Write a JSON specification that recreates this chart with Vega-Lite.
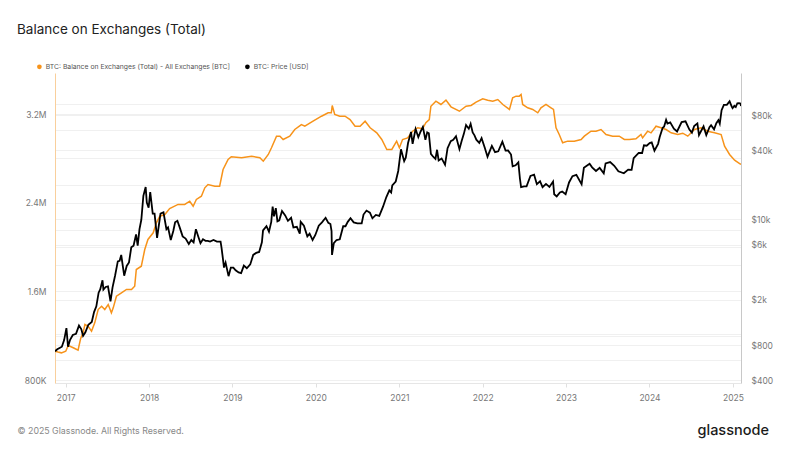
{
  "$schema": "https://vega.github.io/schema/vega-lite/v6.json",
  "width": 686,
  "height": 310,
  "autosize": {"type": "none"},
  "padding": {"left": 55, "top": 73, "right": 59, "bottom": 67},
  "background": "white",
  "title": {
    "text": "Balance on Exchanges (Total)",
    "anchor": "start",
    "frame": "group",
    "dx": -38,
    "offset": 27,
    "fontSize": 13.5,
    "font": "Inter",
    "fontWeight": "normal",
    "color": "#222222"
  },
  "datasets": {
    "balance": [
      {"date": "2016-11-15", "v": 1060000}, {"date": "2016-11-28", "v": 1052000}, {"date": "2016-12-13", "v": 1045000},
      {"date": "2017-01-01", "v": 1060000}, {"date": "2017-01-12", "v": 1111000}, {"date": "2017-02-03", "v": 1091000},
      {"date": "2017-02-24", "v": 1069000}, {"date": "2017-03-07", "v": 1172000}, {"date": "2017-03-18", "v": 1226000},
      {"date": "2017-03-26", "v": 1301000}, {"date": "2017-04-09", "v": 1285000}, {"date": "2017-04-24", "v": 1240000},
      {"date": "2017-05-08", "v": 1316000}, {"date": "2017-05-23", "v": 1436000}, {"date": "2017-06-07", "v": 1466000},
      {"date": "2017-06-21", "v": 1436000}, {"date": "2017-07-06", "v": 1481000}, {"date": "2017-07-20", "v": 1406000},
      {"date": "2017-07-28", "v": 1451000}, {"date": "2017-08-11", "v": 1556000}, {"date": "2017-09-02", "v": 1587000},
      {"date": "2017-09-24", "v": 1617000}, {"date": "2017-10-16", "v": 1617000}, {"date": "2017-10-30", "v": 1646000},
      {"date": "2017-11-06", "v": 1797000}, {"date": "2017-11-28", "v": 1827000}, {"date": "2017-12-13", "v": 1977000},
      {"date": "2017-12-27", "v": 2068000}, {"date": "2018-01-19", "v": 2128000}, {"date": "2018-02-02", "v": 2218000},
      {"date": "2018-02-17", "v": 2278000}, {"date": "2018-03-11", "v": 2293000}, {"date": "2018-04-01", "v": 2347000},
      {"date": "2018-05-08", "v": 2384000}, {"date": "2018-06-06", "v": 2384000}, {"date": "2018-06-28", "v": 2413000},
      {"date": "2018-07-13", "v": 2368000}, {"date": "2018-07-27", "v": 2429000}, {"date": "2018-08-18", "v": 2458000},
      {"date": "2018-09-02", "v": 2534000}, {"date": "2018-09-16", "v": 2564000}, {"date": "2018-10-16", "v": 2549000},
      {"date": "2018-11-06", "v": 2549000}, {"date": "2018-11-21", "v": 2699000}, {"date": "2018-12-13", "v": 2790000},
      {"date": "2018-12-27", "v": 2814000}, {"date": "2019-02-10", "v": 2805000}, {"date": "2019-03-26", "v": 2819000},
      {"date": "2019-05-01", "v": 2805000}, {"date": "2019-05-16", "v": 2774000}, {"date": "2019-06-07", "v": 2835000},
      {"date": "2019-06-21", "v": 2895000}, {"date": "2019-07-13", "v": 3000000}, {"date": "2019-07-28", "v": 3000000},
      {"date": "2019-08-11", "v": 2970000}, {"date": "2019-09-09", "v": 3000000}, {"date": "2019-10-01", "v": 3060000},
      {"date": "2019-10-30", "v": 3105000}, {"date": "2019-11-14", "v": 3090000}, {"date": "2019-12-20", "v": 3135000},
      {"date": "2020-01-26", "v": 3180000}, {"date": "2020-02-24", "v": 3211000}, {"date": "2020-03-09", "v": 3211000},
      {"date": "2020-03-13", "v": 3277000}, {"date": "2020-03-24", "v": 3196000}, {"date": "2020-04-15", "v": 3180000},
      {"date": "2020-05-08", "v": 3180000}, {"date": "2020-05-30", "v": 3150000}, {"date": "2020-06-21", "v": 3090000},
      {"date": "2020-07-13", "v": 3090000}, {"date": "2020-08-04", "v": 3135000}, {"date": "2020-08-26", "v": 3076000},
      {"date": "2020-09-24", "v": 3030000}, {"date": "2020-10-16", "v": 2970000}, {"date": "2020-11-07", "v": 2880000},
      {"date": "2020-11-29", "v": 2880000}, {"date": "2020-12-20", "v": 2955000}, {"date": "2021-01-01", "v": 2895000},
      {"date": "2021-01-15", "v": 2970000}, {"date": "2021-02-06", "v": 2985000}, {"date": "2021-02-28", "v": 3045000},
      {"date": "2021-03-22", "v": 3076000}, {"date": "2021-04-13", "v": 3067000}, {"date": "2021-04-27", "v": 3121000},
      {"date": "2021-05-12", "v": 3150000}, {"date": "2021-05-19", "v": 3270000}, {"date": "2021-06-10", "v": 3316000},
      {"date": "2021-07-02", "v": 3286000}, {"date": "2021-07-24", "v": 3325000}, {"date": "2021-08-15", "v": 3265000},
      {"date": "2021-09-21", "v": 3225000}, {"date": "2021-10-20", "v": 3270000}, {"date": "2021-11-11", "v": 3277000},
      {"date": "2021-12-03", "v": 3307000}, {"date": "2022-01-01", "v": 3337000}, {"date": "2022-01-23", "v": 3325000},
      {"date": "2022-02-14", "v": 3316000}, {"date": "2022-03-08", "v": 3331000}, {"date": "2022-03-30", "v": 3286000},
      {"date": "2022-04-28", "v": 3241000}, {"date": "2022-05-12", "v": 3346000}, {"date": "2022-05-27", "v": 3361000},
      {"date": "2022-06-10", "v": 3361000}, {"date": "2022-06-18", "v": 3376000}, {"date": "2022-06-25", "v": 3286000},
      {"date": "2022-07-17", "v": 3256000}, {"date": "2022-08-08", "v": 3241000}, {"date": "2022-08-30", "v": 3211000},
      {"date": "2022-09-13", "v": 3256000}, {"date": "2022-10-05", "v": 3286000}, {"date": "2022-10-27", "v": 3256000},
      {"date": "2022-11-07", "v": 3241000}, {"date": "2022-11-18", "v": 3076000}, {"date": "2022-12-02", "v": 3015000},
      {"date": "2022-12-17", "v": 2940000}, {"date": "2023-01-08", "v": 2955000}, {"date": "2023-02-06", "v": 2955000},
      {"date": "2023-03-08", "v": 2970000}, {"date": "2023-03-22", "v": 3000000}, {"date": "2023-04-20", "v": 3045000},
      {"date": "2023-05-12", "v": 3045000}, {"date": "2023-06-03", "v": 3060000}, {"date": "2023-06-25", "v": 3015000},
      {"date": "2023-07-24", "v": 3000000}, {"date": "2023-08-22", "v": 3000000}, {"date": "2023-09-13", "v": 2970000},
      {"date": "2023-10-05", "v": 2970000}, {"date": "2023-11-03", "v": 2976000}, {"date": "2023-11-25", "v": 3015000},
      {"date": "2023-12-02", "v": 2985000}, {"date": "2023-12-24", "v": 3045000}, {"date": "2024-01-08", "v": 3030000},
      {"date": "2024-01-30", "v": 3090000}, {"date": "2024-02-21", "v": 3076000}, {"date": "2024-03-14", "v": 3060000},
      {"date": "2024-04-05", "v": 3030000}, {"date": "2024-05-04", "v": 3015000}, {"date": "2024-05-26", "v": 3027000},
      {"date": "2024-06-17", "v": 3000000}, {"date": "2024-07-16", "v": 3060000}, {"date": "2024-08-14", "v": 3076000},
      {"date": "2024-09-12", "v": 3045000}, {"date": "2024-10-12", "v": 3030000}, {"date": "2024-11-10", "v": 3015000},
      {"date": "2024-11-25", "v": 2910000}, {"date": "2024-12-17", "v": 2835000}, {"date": "2025-01-08", "v": 2783000},
      {"date": "2025-01-30", "v": 2753000}, {"date": "2025-02-05", "v": 2745000}
    ],
    "price": [
      {"date": "2016-11-15", "v": 711}, {"date": "2016-11-25", "v": 740}, {"date": "2016-12-05", "v": 760},
      {"date": "2016-12-15", "v": 780}, {"date": "2016-12-25", "v": 890}, {"date": "2017-01-04", "v": 1130},
      {"date": "2017-01-11", "v": 780}, {"date": "2017-01-20", "v": 895}, {"date": "2017-02-01", "v": 985},
      {"date": "2017-02-15", "v": 1010}, {"date": "2017-02-28", "v": 1190}, {"date": "2017-03-10", "v": 1110},
      {"date": "2017-03-18", "v": 970}, {"date": "2017-03-28", "v": 1040}, {"date": "2017-04-10", "v": 1210},
      {"date": "2017-04-25", "v": 1280}, {"date": "2017-05-05", "v": 1560}, {"date": "2017-05-15", "v": 1750},
      {"date": "2017-05-25", "v": 2300}, {"date": "2017-06-01", "v": 2450}, {"date": "2017-06-11", "v": 2950},
      {"date": "2017-06-15", "v": 2450}, {"date": "2017-06-25", "v": 2580}, {"date": "2017-07-05", "v": 2610},
      {"date": "2017-07-16", "v": 1930}, {"date": "2017-07-25", "v": 2560}, {"date": "2017-08-05", "v": 3230},
      {"date": "2017-08-17", "v": 4300}, {"date": "2017-08-25", "v": 4350}, {"date": "2017-09-01", "v": 4890},
      {"date": "2017-09-14", "v": 3230}, {"date": "2017-09-25", "v": 3930}, {"date": "2017-10-05", "v": 4220},
      {"date": "2017-10-15", "v": 5700}, {"date": "2017-10-25", "v": 5900}, {"date": "2017-11-05", "v": 7380},
      {"date": "2017-11-12", "v": 5900}, {"date": "2017-11-20", "v": 8200}, {"date": "2017-11-28", "v": 9900},
      {"date": "2017-12-07", "v": 16000}, {"date": "2017-12-17", "v": 19100}, {"date": "2017-12-22", "v": 14000},
      {"date": "2017-12-30", "v": 12600}, {"date": "2018-01-06", "v": 17200}, {"date": "2018-01-17", "v": 11200},
      {"date": "2018-01-25", "v": 11200}, {"date": "2018-02-05", "v": 6900}, {"date": "2018-02-20", "v": 11200},
      {"date": "2018-03-05", "v": 11500}, {"date": "2018-03-18", "v": 8200}, {"date": "2018-03-25", "v": 8500},
      {"date": "2018-04-06", "v": 6600}, {"date": "2018-04-17", "v": 7900}, {"date": "2018-04-25", "v": 9400},
      {"date": "2018-05-05", "v": 9700}, {"date": "2018-05-15", "v": 8500}, {"date": "2018-05-28", "v": 7100},
      {"date": "2018-06-10", "v": 6800}, {"date": "2018-06-24", "v": 6100}, {"date": "2018-07-05", "v": 6600},
      {"date": "2018-07-15", "v": 6300}, {"date": "2018-07-25", "v": 8200}, {"date": "2018-08-05", "v": 7000},
      {"date": "2018-08-14", "v": 6200}, {"date": "2018-08-25", "v": 6700}, {"date": "2018-09-05", "v": 6500},
      {"date": "2018-09-15", "v": 6500}, {"date": "2018-09-25", "v": 6400}, {"date": "2018-10-10", "v": 6600},
      {"date": "2018-10-25", "v": 6400}, {"date": "2018-11-10", "v": 6400}, {"date": "2018-11-14", "v": 5700},
      {"date": "2018-11-20", "v": 4600}, {"date": "2018-11-25", "v": 3800}, {"date": "2018-12-02", "v": 4200},
      {"date": "2018-12-15", "v": 3200}, {"date": "2018-12-25", "v": 3800}, {"date": "2019-01-05", "v": 3800},
      {"date": "2019-01-15", "v": 3600}, {"date": "2019-01-28", "v": 3450}, {"date": "2019-02-08", "v": 3400},
      {"date": "2019-02-20", "v": 3950}, {"date": "2019-03-05", "v": 3750}, {"date": "2019-03-20", "v": 4050},
      {"date": "2019-04-02", "v": 4900}, {"date": "2019-04-15", "v": 5100}, {"date": "2019-04-28", "v": 5200},
      {"date": "2019-05-10", "v": 6300}, {"date": "2019-05-15", "v": 8000}, {"date": "2019-05-30", "v": 8700},
      {"date": "2019-06-10", "v": 7800}, {"date": "2019-06-20", "v": 9500}, {"date": "2019-06-26", "v": 12900},
      {"date": "2019-07-02", "v": 10600}, {"date": "2019-07-10", "v": 12500}, {"date": "2019-07-17", "v": 9600},
      {"date": "2019-07-25", "v": 9800}, {"date": "2019-08-06", "v": 11800}, {"date": "2019-08-20", "v": 10800},
      {"date": "2019-09-01", "v": 9700}, {"date": "2019-09-15", "v": 10300}, {"date": "2019-09-25", "v": 8500},
      {"date": "2019-10-10", "v": 8600}, {"date": "2019-10-23", "v": 7500}, {"date": "2019-10-27", "v": 9500},
      {"date": "2019-11-10", "v": 8800}, {"date": "2019-11-25", "v": 7100}, {"date": "2019-12-05", "v": 7500},
      {"date": "2019-12-18", "v": 6600}, {"date": "2019-12-30", "v": 7300}, {"date": "2020-01-14", "v": 8800},
      {"date": "2020-01-28", "v": 9400}, {"date": "2020-02-13", "v": 10300}, {"date": "2020-02-25", "v": 9300},
      {"date": "2020-03-05", "v": 9100}, {"date": "2020-03-10", "v": 7900}, {"date": "2020-03-12", "v": 4900},
      {"date": "2020-03-20", "v": 6200}, {"date": "2020-04-01", "v": 6600}, {"date": "2020-04-15", "v": 6700},
      {"date": "2020-04-30", "v": 8700}, {"date": "2020-05-10", "v": 8700}, {"date": "2020-05-20", "v": 9500},
      {"date": "2020-06-01", "v": 10200}, {"date": "2020-06-15", "v": 9400}, {"date": "2020-07-01", "v": 9200},
      {"date": "2020-07-20", "v": 9200}, {"date": "2020-07-28", "v": 11000}, {"date": "2020-08-10", "v": 11900},
      {"date": "2020-08-25", "v": 11400}, {"date": "2020-09-05", "v": 10200}, {"date": "2020-09-20", "v": 10900},
      {"date": "2020-10-05", "v": 10700}, {"date": "2020-10-21", "v": 12800}, {"date": "2020-11-05", "v": 15600},
      {"date": "2020-11-18", "v": 17800}, {"date": "2020-11-26", "v": 17100}, {"date": "2020-12-01", "v": 19700},
      {"date": "2020-12-16", "v": 21300}, {"date": "2020-12-27", "v": 26300}, {"date": "2021-01-08", "v": 40600},
      {"date": "2021-01-22", "v": 32000}, {"date": "2021-01-29", "v": 34300}, {"date": "2021-02-08", "v": 46000},
      {"date": "2021-02-21", "v": 57500}, {"date": "2021-02-28", "v": 45200}, {"date": "2021-03-13", "v": 61000},
      {"date": "2021-03-25", "v": 51700}, {"date": "2021-04-04", "v": 58000}, {"date": "2021-04-14", "v": 63500},
      {"date": "2021-04-25", "v": 49000}, {"date": "2021-05-03", "v": 57000}, {"date": "2021-05-10", "v": 56000},
      {"date": "2021-05-19", "v": 37000}, {"date": "2021-05-29", "v": 35000}, {"date": "2021-06-08", "v": 33500},
      {"date": "2021-06-15", "v": 40200}, {"date": "2021-06-22", "v": 32500}, {"date": "2021-07-05", "v": 33800},
      {"date": "2021-07-20", "v": 29800}, {"date": "2021-07-31", "v": 41500}, {"date": "2021-08-14", "v": 47800},
      {"date": "2021-08-25", "v": 49000}, {"date": "2021-09-06", "v": 52700}, {"date": "2021-09-21", "v": 40700},
      {"date": "2021-10-01", "v": 48100}, {"date": "2021-10-10", "v": 55000}, {"date": "2021-10-20", "v": 66000},
      {"date": "2021-11-01", "v": 61300}, {"date": "2021-11-09", "v": 67500}, {"date": "2021-11-18", "v": 56900},
      {"date": "2021-11-26", "v": 53700}, {"date": "2021-12-04", "v": 49200}, {"date": "2021-12-17", "v": 46200},
      {"date": "2021-12-27", "v": 50700}, {"date": "2022-01-10", "v": 41800}, {"date": "2022-01-22", "v": 35000},
      {"date": "2022-02-10", "v": 43500}, {"date": "2022-02-24", "v": 38300}, {"date": "2022-03-10", "v": 39000},
      {"date": "2022-03-28", "v": 47300}, {"date": "2022-04-11", "v": 39500}, {"date": "2022-04-22", "v": 39700},
      {"date": "2022-05-05", "v": 36500}, {"date": "2022-05-12", "v": 28900}, {"date": "2022-05-25", "v": 29500},
      {"date": "2022-06-06", "v": 31300}, {"date": "2022-06-13", "v": 22500}, {"date": "2022-06-18", "v": 19000},
      {"date": "2022-07-01", "v": 19300}, {"date": "2022-07-12", "v": 19300}, {"date": "2022-07-29", "v": 23800},
      {"date": "2022-08-14", "v": 24400}, {"date": "2022-08-26", "v": 20200}, {"date": "2022-09-09", "v": 21400},
      {"date": "2022-09-20", "v": 19000}, {"date": "2022-10-05", "v": 20300}, {"date": "2022-10-20", "v": 19100},
      {"date": "2022-11-05", "v": 21300}, {"date": "2022-11-10", "v": 16500}, {"date": "2022-11-21", "v": 15800},
      {"date": "2022-12-05", "v": 17100}, {"date": "2022-12-15", "v": 17400}, {"date": "2022-12-30", "v": 16500},
      {"date": "2023-01-14", "v": 20900}, {"date": "2023-01-29", "v": 23700}, {"date": "2023-02-15", "v": 24300},
      {"date": "2023-03-10", "v": 20200}, {"date": "2023-03-20", "v": 28000}, {"date": "2023-04-14", "v": 30400},
      {"date": "2023-04-25", "v": 28300}, {"date": "2023-05-12", "v": 26300}, {"date": "2023-05-28", "v": 28000},
      {"date": "2023-06-15", "v": 25100}, {"date": "2023-06-23", "v": 30600}, {"date": "2023-07-13", "v": 31400},
      {"date": "2023-07-31", "v": 29200}, {"date": "2023-08-18", "v": 26100}, {"date": "2023-09-11", "v": 25100},
      {"date": "2023-09-30", "v": 27000}, {"date": "2023-10-15", "v": 26900}, {"date": "2023-10-24", "v": 34000},
      {"date": "2023-11-15", "v": 37800}, {"date": "2023-11-30", "v": 37700}, {"date": "2023-12-08", "v": 44000},
      {"date": "2023-12-20", "v": 43600}, {"date": "2024-01-02", "v": 45900}, {"date": "2024-01-11", "v": 46600},
      {"date": "2024-01-23", "v": 39500}, {"date": "2024-02-08", "v": 45300}, {"date": "2024-02-15", "v": 51900},
      {"date": "2024-02-28", "v": 62500}, {"date": "2024-03-05", "v": 63800}, {"date": "2024-03-14", "v": 73100},
      {"date": "2024-03-20", "v": 67900}, {"date": "2024-04-01", "v": 69600}, {"date": "2024-04-17", "v": 61300},
      {"date": "2024-05-01", "v": 58000}, {"date": "2024-05-21", "v": 70100}, {"date": "2024-06-07", "v": 71000},
      {"date": "2024-06-24", "v": 60300}, {"date": "2024-07-05", "v": 56700}, {"date": "2024-07-15", "v": 64800},
      {"date": "2024-07-29", "v": 68200}, {"date": "2024-08-05", "v": 54000}, {"date": "2024-08-25", "v": 64200},
      {"date": "2024-09-06", "v": 53900}, {"date": "2024-09-20", "v": 63200}, {"date": "2024-09-27", "v": 65800},
      {"date": "2024-10-10", "v": 60600}, {"date": "2024-10-20", "v": 68400}, {"date": "2024-10-29", "v": 72700},
      {"date": "2024-11-04", "v": 67800}, {"date": "2024-11-12", "v": 88700}, {"date": "2024-11-22", "v": 98900},
      {"date": "2024-12-05", "v": 98700}, {"date": "2024-12-17", "v": 106000}, {"date": "2024-12-26", "v": 95700},
      {"date": "2024-12-30", "v": 92500}, {"date": "2025-01-07", "v": 96900}, {"date": "2025-01-13", "v": 94500},
      {"date": "2025-01-20", "v": 102000}, {"date": "2025-01-27", "v": 102300}, {"date": "2025-02-03", "v": 101400},
      {"date": "2025-02-05", "v": 96600}
    ]
  },
  "layer": [
    {
      "data": {"name": "balance"},
      "mark": {"type": "line", "strokeWidth": 1.5, "clip": true},
      "encoding": {
        "x": {
          "field": "date",
          "type": "temporal",
          "scale": {"domain": [1479168000000, 1738713600000]},
          "axis": {
            "format": "%Y",
            "tickCount": {"interval": "year", "step": 1},
            "grid": false,
            "labelFontSize": 8.5,
            "labelColor": "#777777",
            "labelFlush": false,
            "labelPadding": 6,
            "tickSize": 4,
            "tickColor": "#e0e0e0",
            "domainColor": "#e6e6e6",
            "title": "© 2025 Glassnode. All Rights Reserved.",
            "titleX": -38,
            "titleY": 47,
            "titleAlign": "left",
            "titleBaseline": "middle",
            "titleFontSize": 8.8,
            "titleFontWeight": "normal",
            "titleColor": "#888888"
          }
        },
        "y": {
          "field": "v",
          "type": "quantitative",
          "scale": {"domain": [773000, 3570000], "nice": false, "zero": false},
          "axis": {
            "orient": "left",
            "values": [800000, 1200000, 1600000, 2000000, 2400000, 2800000, 3200000],
            "labelExpr": "datum.value % 800000 == 0 ? (datum.value >= 1000000 ? format(datum.value / 1000000, '.1f') + 'M' : format(datum.value / 1000, 'd') + 'K') : ''",
            "grid": true,
            "gridColor": "#f0f0f0",
            "ticks": false,
            "labelPadding": 9,
            "labelFontSize": 8.5,
            "labelColor": "#777777",
            "labelFlush": false,
            "labelOverlap": false,
            "domainColor": "#f9cf9c",
            "title": null
          }
        },
        "color": {
          "datum": "BTC: Balance on Exchanges (Total) - All Exchanges [BTC]",
          "scale": {
            "domain": ["BTC: Balance on Exchanges (Total) - All Exchanges [BTC]", "BTC: Price [USD]"],
            "range": ["#f7931a", "#000000"]
          },
          "legend": {
            "orient": "none",
            "legendX": -19,
            "legendY": -10,
            "direction": "horizontal",
            "title": null,
            "symbolType": "circle",
            "symbolSize": 22,
            "symbolStrokeWidth": 0,
            "labelFontSize": 6.8,
            "labelColor": "#555555",
            "labelOffset": 3,
            "columnPadding": 13,
            "labelLimit": 400,
            "encode": {"symbols": {"update": {"fill": {"scale": "color", "field": "value"}, "fillOpacity": {"value": 1}}}}
          }
        }
      }
    },
    {
      "data": {"name": "price"},
      "mark": {"type": "line", "strokeWidth": 1.8, "clip": true},
      "encoding": {
        "x": {"field": "date", "type": "temporal"},
        "y": {
          "field": "v",
          "type": "quantitative",
          "scale": {"type": "log", "domain": [377, 187000], "nice": false},
          "axis": {
            "orient": "right",
            "values": [400, 600, 800, 1000, 2000, 4000, 6000, 8000, 10000, 20000, 40000, 60000, 80000, 100000],
            "labelExpr": "indexof([400, 800, 2000, 6000, 10000, 40000, 80000], datum.value) >= 0 ? (datum.value >= 1000 ? '$' + (datum.value / 1000) + 'k' : '$' + datum.value) : ''",
            "grid": true,
            "gridColor": "#f0f0f0",
            "ticks": false,
            "labelPadding": 10,
            "labelFontSize": 8.5,
            "labelColor": "#777777",
            "labelFlush": false,
            "labelOverlap": false,
            "domainColor": "#c8c8c8",
            "title": "glassnode",
            "titleAngle": 0,
            "titleX": -44,
            "titleY": 357,
            "titleAlign": "left",
            "titleBaseline": "middle",
            "titleFontSize": 14.5,
            "titleFontWeight": 500,
            "titleColor": "#1a1a1a"
          }
        },
        "color": {"datum": "BTC: Price [USD]"}
      }
    }
  ],
  "resolve": {"scale": {"y": "independent"}},
  "config": {
    "font": "Inter",
    "view": {"stroke": null}
  }
}
